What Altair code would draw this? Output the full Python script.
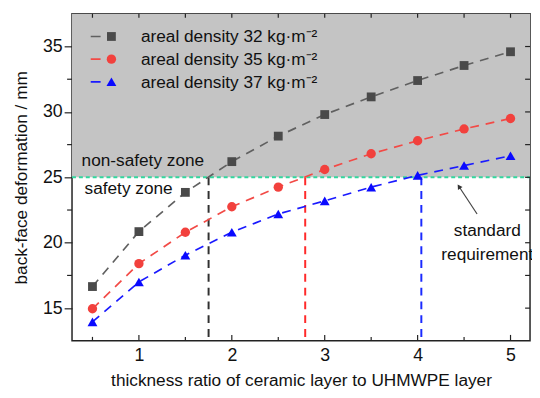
import altair as alt
import pandas as pd

# ---------------- data ----------------
ratio = [0.5, 1, 1.5, 2, 2.5, 3, 3.5, 4, 4.5, 5]
def32 = [16.65, 20.85, 23.85, 26.2, 28.15, 29.8, 31.15, 32.4, 33.55, 34.6]
def35 = [14.95, 18.4, 20.8, 22.75, 24.25, 25.6, 26.8, 27.8, 28.7, 29.5]
def37 = [13.95, 17.0, 19.05, 20.8, 22.2, 23.2, 24.25, 25.15, 25.9, 26.65]
series_names = ["areal density 32 kg·m⁻²", "areal density 35 kg·m⁻²", "areal density 37 kg·m⁻²"]
marker_colors = ["#4a4a4a", "#f2413d", "#0a0aff"]
line_colors = ["#606060", "#f24a46", "#1a1aff"]
shapes = ["square", "circle", "triangle-up"]
sizes = [80, 90, 100]
threshold_x = [1.75, 2.79, 4.04]
threshold_colors = ["#303030", "#ff2a2a", "#1a2aff"]
limit = 25
y_min, y_max = 12.5, 37.5
x_min, x_max = 0.28, 5.21
y_ticks = [15, 20, 25, 30, 35]
x_ticks = [1, 2, 3, 4, 5]

W, H = 465, 332
FONT = "Liberation Sans"

xs = alt.Scale(domain=[x_min, x_max], nice=False, zero=False)
ys = alt.Scale(domain=[y_min, y_max], nice=False, zero=False)
XT = "thickness ratio of ceramic layer to UHMWPE layer"
YT = "back-face deformation / mm"

rows = []
for name, vals in zip(series_names, [def32, def35, def37]):
    for r, v in zip(ratio, vals):
        rows.append({"series": name, "ratio": r, "def": v})
df = pd.DataFrame(rows)


def X(field="ratio"):
    return alt.X(f"{field}:Q", scale=xs, title=XT)


def Y(field="def"):
    return alt.Y(f"{field}:Q", scale=ys, title=YT)


layers = []

# axis base layer (invisible points) carrying axes
base = alt.Chart(df).mark_point(opacity=0).encode(
    x=alt.X("ratio:Q", scale=xs, title=XT,
            axis=alt.Axis(values=x_ticks, ticks=False, domain=False, grid=False, labelPadding=6,
                          format="d", titlePadding=7)),
    y=alt.Y("def:Q", scale=ys, title=YT,
            axis=alt.Axis(values=y_ticks, tickSize=8, tickWidth=1.2, tickColor="#222", domain=False,
                          grid=False, labelPadding=2, titlePadding=12)),
)
layers.append(base)

# gray non-safety zone
zone = alt.Chart(pd.DataFrame({"def": [limit], "def2": [y_max]})).mark_rect(color="#c4c4c4").encode(
    x=alt.value(0), x2=alt.value(W), y=Y(), y2="def2:Q")
layers.append(zone)

# standard requirement line
std = alt.Chart(pd.DataFrame({"def": [limit]})).mark_rule(color="#33d69e", strokeWidth=2, strokeDash=[4, 3]).encode(
    x=alt.value(0), x2=alt.value(W), y=Y())
layers.append(std)

# vertical threshold lines
for tx, tc in zip(threshold_x, threshold_colors):
    layers.append(alt.Chart(pd.DataFrame({"ratio": [tx], "def": [limit], "def2": [y_min]})).mark_rule(
        color=tc, strokeWidth=2, strokeDash=[8, 6]).encode(x=X(), y=Y(), y2="def2:Q"))

# series lines and markers
for name, lc, mc, sh, sz in zip(series_names, line_colors, marker_colors, shapes, sizes):
    sub = df[df["series"] == name]
    layers.append(alt.Chart(sub).mark_line(color=lc, strokeWidth=1.7, strokeDash=[9, 7]).encode(x=X(), y=Y()))
    layers.append(alt.Chart(sub).mark_point(filled=True, opacity=1, color=mc, shape=sh, size=sz).encode(
        x=X(), y=Y()))

# legend (manual)
leg_y = [23, 46, 69]
for name, lc, mc, sh, sz, ly in zip(series_names, line_colors, marker_colors, shapes, sizes, leg_y):
    one = pd.DataFrame({"t": [name]})
    layers.append(alt.Chart(one).mark_rule(color=lc, strokeWidth=1.7, strokeDash=[10, 10, 1, 100]).encode(
        x=alt.value(19), x2=alt.value(62), y=alt.value(ly)))
    layers.append(alt.Chart(one).mark_point(filled=True, opacity=1, color=mc, shape=sh, size=sz).encode(
        x=alt.value(40), y=alt.value(ly)))
    layers.append(alt.Chart(one).mark_text(align="left", baseline="middle", font=FONT, fontSize=17.5,
                                           color="#111").encode(
        x=alt.value(70), y=alt.value(ly + 1), text="t:N"))

# annotations
ann = pd.DataFrame({
    "ratio": [0.383, 0.415, 4.75, 4.75],
    "def": [26.28, 24.1, 20.87, 19.07],
    "t": ["non-safety zone", "safety zone", "standard", "requirement"],
    "a": ["left", "left", "center", "center"],
})
for a in ["left", "center"]:
    layers.append(alt.Chart(ann[ann["a"] == a]).mark_text(align=a, baseline="middle", font=FONT, fontSize=17.5,
                                                          color="#111").encode(x=X(), y=Y(), text="t:N"))

# arrow
arrow = pd.DataFrame({"ratio": [4.64], "def": [22.2], "ratio2": [4.445], "def2": [24.3]})
layers.append(alt.Chart(arrow).mark_rule(color="#444", strokeWidth=1.2).encode(
    x=X(), y=Y(), x2="ratio2:Q", y2="def2:Q"))
layers.append(alt.Chart(pd.DataFrame({"ratio": [4.445], "def": [24.3]})).mark_point(
    shape="triangle-up", filled=True, opacity=1, color="#333", size=30, angle=327).encode(x=X(), y=Y()))

# inward frame ticks
bottom_major = [1, 2, 3, 4, 5]
bottom_minor = [0.5, 1.5, 2.5, 3.5, 4.5]
top_ticks = [0.5, 1, 1.5, 2, 2.5, 3, 3.5, 4, 4.5, 5]
right_ticks = [15, 17.5, 20, 22.5, 25, 27.5, 30, 32.5, 35]
left_minor = [17.5, 22.5, 27.5, 32.5]


def xtick(vals, y0, y1):
    return alt.Chart(pd.DataFrame({"ratio": vals})).mark_rule(color="#222", strokeWidth=1.2).encode(
        x=X(), y=alt.value(y0), y2=alt.value(y1))


def ytick(vals, x0, x1):
    return alt.Chart(pd.DataFrame({"def": vals})).mark_rule(color="#222", strokeWidth=1.2).encode(
        y=Y(), x=alt.value(x0), x2=alt.value(x1))


layers.append(xtick(bottom_major, H, H - 6))
layers.append(xtick(bottom_minor, H, H - 4))
layers.append(xtick(top_ticks, 0, 4))
layers.append(ytick(right_ticks, W, W - 5))
layers.append(ytick(left_minor, 0, -5))

chart = alt.layer(*layers).properties(
    width=W, height=H,
    autosize=alt.AutoSizeParams(type="none"),
    padding={"left": 65, "top": 3, "right": 2, "bottom": 47},
).configure_view(stroke="#222", strokeWidth=1.5).configure_axis(
    labelFont=FONT, titleFont=FONT, labelFontSize=18, titleFontSize=17.5,
    labelColor="#111", titleColor="#111", titleFontWeight="normal"
)

chart.save("out.html", embed_options={"renderer": "svg", "actions": False})
